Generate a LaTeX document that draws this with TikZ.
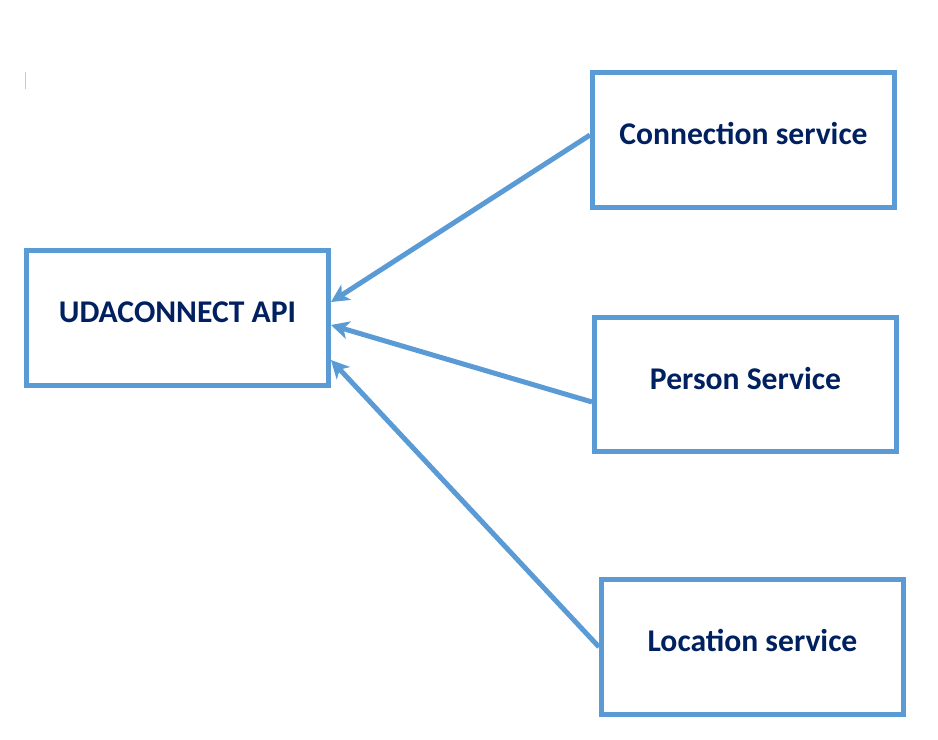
\documentclass[tikz,border=0pt]{standalone}
\usepackage{fontspec}
\setmainfont{Carlito}
\usepackage{tikz}
\usetikzlibrary{arrows.meta,positioning}
\definecolor{udblue}{RGB}{91,155,213}
\definecolor{udnavy}{RGB}{0,32,96}
\tikzstyle{arrow} = [line width=0.1cm,-{Stealth[length=3.6mm,width=3.6mm,inset=1mm]},color=udblue]
\tikzstyle{service} = [rectangle, minimum width=6.04cm, minimum height=2.7cm, text centered, text height=0.5cm, text depth=0.3cm, draw=udblue, line width=0.1cm, font=\fontsize{18}{21}\selectfont\bfseries, text=udnavy]

\begin{document}
\begin{tikzpicture}[x=0.02cm,y=-0.02cm]
\useasboundingbox (0,0) rectangle (938,740);
% small mark top left
\draw[gray!40, line width=0.02cm] (25,72) -- (25,89);

% Gateway
\node (api) [service] at (177.5,318) {UDACONNECT API};

% Services
\node (conn) [service] at (743.5,140) {Connection service};
\node (person) [service] at (745.5,384.5) {Person Service};
\node (location) [service] at (752.5,647) {Location service};

% Calls into the API
\draw[arrow] ([yshift=0.1cm]conn.west) -- ([yshift=0.32cm]api.east);
\draw[arrow] ([yshift=-0.35cm]person.west) -- ([yshift=-0.14cm]api.east);
\draw[arrow] (location.west) -- ([yshift=-0.84cm]api.east);
\end{tikzpicture}
\end{document}
